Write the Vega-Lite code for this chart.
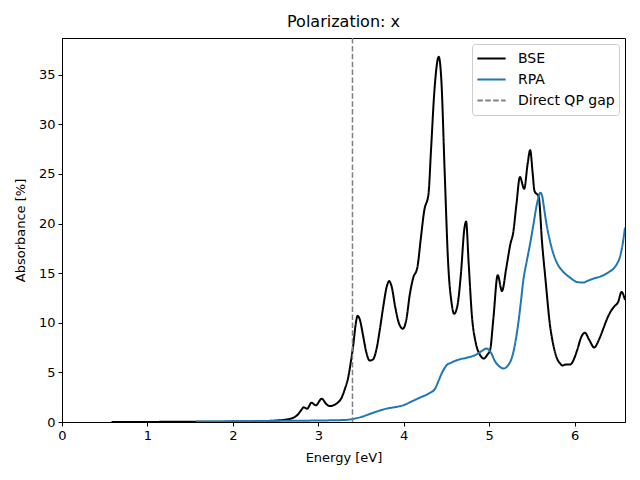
{
  "$schema": "https://vega.github.io/schema/vega-lite/v6.json",
  "autosize": {"type": "none"},
  "padding": {"left": 62, "top": 38, "right": 15, "bottom": 58},
  "width": 563,
  "height": 384,
  "title": {"text": "Polarization: x", "font": "DejaVu Sans", "fontSize": 16, "fontWeight": "normal", "color": "black", "offset": 7},
  "config": {
    "font": "DejaVu Sans",
    "view": {"stroke": "black", "strokeWidth": 1},
    "axis": {
      "grid": false, "domainColor": "black", "tickColor": "black", "labelColor": "black",
      "titleColor": "black", "labelFont": "DejaVu Sans", "titleFont": "DejaVu Sans",
      "labelFontSize": 13, "titleFontSize": 13, "titleFontWeight": "normal",
      "tickSize": 4, "labelPadding": 3, "labelFlush": false
    },
    "legend": {
      "title": null, "orient": "top-right", "offset": 6, "strokeColor": "#cccccc",
      "cornerRadius": 3, "padding": 4, "fillColor": "white", "symbolType": "stroke",
      "symbolSize": 800, "symbolStrokeWidth": 2, "labelFontSize": 14, "labelOffset": 11,
      "labelFont": "DejaVu Sans", "labelColor": "black", "rowPadding": -5, "symbolLimit": 0,
      "clipHeight": 21
    }
  },
  "datasets": {
    "curves": [
      {"e":0.58,"a":0.0,"s":"BSE"},{"e":1.0,"a":0.01,"s":"BSE"},{"e":1.5,"a":0.02,"s":"BSE"},{"e":2.0,"a":0.04,"s":"BSE"},
      {"e":2.3,"a":0.08,"s":"BSE"},{"e":2.5,"a":0.15,"s":"BSE"},{"e":2.6,"a":0.22,"s":"BSE"},{"e":2.7,"a":0.4,"s":"BSE"},
      {"e":2.76,"a":0.75,"s":"BSE"},{"e":2.8,"a":1.2,"s":"BSE"},{"e":2.83,"a":1.48,"s":"BSE"},{"e":2.87,"a":1.34,"s":"BSE"},
      {"e":2.92,"a":1.94,"s":"BSE"},{"e":2.97,"a":1.68,"s":"BSE"},{"e":3.04,"a":2.35,"s":"BSE"},{"e":3.09,"a":1.85,"s":"BSE"},
      {"e":3.13,"a":1.6,"s":"BSE"},{"e":3.18,"a":1.7,"s":"BSE"},{"e":3.22,"a":1.9,"s":"BSE"},{"e":3.27,"a":2.4,"s":"BSE"},
      {"e":3.31,"a":3.3,"s":"BSE"},{"e":3.35,"a":4.5,"s":"BSE"},{"e":3.38,"a":6.0,"s":"BSE"},{"e":3.41,"a":7.8,"s":"BSE"},
      {"e":3.44,"a":10.0,"s":"BSE"},{"e":3.46,"a":10.7,"s":"BSE"},{"e":3.49,"a":10.2,"s":"BSE"},{"e":3.52,"a":8.9,"s":"BSE"},
      {"e":3.56,"a":7.1,"s":"BSE"},{"e":3.6,"a":6.2,"s":"BSE"},{"e":3.64,"a":6.3,"s":"BSE"},{"e":3.68,"a":7.3,"s":"BSE"},
      {"e":3.72,"a":9.3,"s":"BSE"},{"e":3.76,"a":11.6,"s":"BSE"},{"e":3.8,"a":13.6,"s":"BSE"},{"e":3.83,"a":14.2,"s":"BSE"},
      {"e":3.86,"a":13.6,"s":"BSE"},{"e":3.9,"a":11.6,"s":"BSE"},{"e":3.95,"a":9.8,"s":"BSE"},{"e":3.99,"a":9.4,"s":"BSE"},
      {"e":4.03,"a":10.3,"s":"BSE"},{"e":4.07,"a":12.8,"s":"BSE"},{"e":4.11,"a":14.5,"s":"BSE"},{"e":4.16,"a":15.6,"s":"BSE"},
      {"e":4.2,"a":18.5,"s":"BSE"},{"e":4.24,"a":21.3,"s":"BSE"},{"e":4.29,"a":23.0,"s":"BSE"},{"e":4.32,"a":27.5,"s":"BSE"},
      {"e":4.36,"a":33.5,"s":"BSE"},{"e":4.41,"a":36.8,"s":"BSE"},{"e":4.44,"a":34.5,"s":"BSE"},{"e":4.48,"a":25.0,"s":"BSE"},
      {"e":4.52,"a":16.0,"s":"BSE"},{"e":4.56,"a":12.0,"s":"BSE"},{"e":4.59,"a":10.9,"s":"BSE"},{"e":4.63,"a":11.8,"s":"BSE"},
      {"e":4.67,"a":15.0,"s":"BSE"},{"e":4.71,"a":19.5,"s":"BSE"},{"e":4.73,"a":20.2,"s":"BSE"},{"e":4.76,"a":16.0,"s":"BSE"},
      {"e":4.8,"a":10.5,"s":"BSE"},{"e":4.84,"a":8.1,"s":"BSE"},{"e":4.89,"a":6.8,"s":"BSE"},{"e":4.94,"a":6.4,"s":"BSE"},
      {"e":4.98,"a":6.8,"s":"BSE"},{"e":5.01,"a":7.2,"s":"BSE"},{"e":5.05,"a":10.5,"s":"BSE"},{"e":5.1,"a":14.8,"s":"BSE"},
      {"e":5.15,"a":13.2,"s":"BSE"},{"e":5.2,"a":15.5,"s":"BSE"},{"e":5.25,"a":18.0,"s":"BSE"},{"e":5.28,"a":19.0,"s":"BSE"},
      {"e":5.32,"a":22.0,"s":"BSE"},{"e":5.36,"a":24.7,"s":"BSE"},{"e":5.41,"a":23.5,"s":"BSE"},{"e":5.45,"a":26.0,"s":"BSE"},
      {"e":5.48,"a":27.4,"s":"BSE"},{"e":5.51,"a":25.0,"s":"BSE"},{"e":5.53,"a":23.3,"s":"BSE"},{"e":5.58,"a":22.7,"s":"BSE"},
      {"e":5.62,"a":18.0,"s":"BSE"},{"e":5.66,"a":14.3,"s":"BSE"},{"e":5.71,"a":9.9,"s":"BSE"},{"e":5.75,"a":7.8,"s":"BSE"},
      {"e":5.79,"a":6.5,"s":"BSE"},{"e":5.83,"a":5.9,"s":"BSE"},{"e":5.86,"a":5.7,"s":"BSE"},{"e":5.9,"a":5.8,"s":"BSE"},
      {"e":5.95,"a":5.8,"s":"BSE"},{"e":6.0,"a":6.5,"s":"BSE"},{"e":6.03,"a":7.24,"s":"BSE"},{"e":6.08,"a":8.6,"s":"BSE"},
      {"e":6.12,"a":9.0,"s":"BSE"},{"e":6.17,"a":8.3,"s":"BSE"},{"e":6.23,"a":7.5,"s":"BSE"},{"e":6.27,"a":8.0,"s":"BSE"},
      {"e":6.3,"a":8.6,"s":"BSE"},{"e":6.34,"a":9.5,"s":"BSE"},{"e":6.38,"a":10.4,"s":"BSE"},{"e":6.42,"a":11.1,"s":"BSE"},
      {"e":6.46,"a":11.6,"s":"BSE"},{"e":6.51,"a":12.1,"s":"BSE"},{"e":6.55,"a":13.1,"s":"BSE"},{"e":6.59,"a":12.3,"s":"BSE"},
      {"e":1.57,"a":0.04,"s":"RPA"},{"e":2.0,"a":0.07,"s":"RPA"},
      {"e":2.5,"a":0.11,"s":"RPA"},{"e":3.0,"a":0.15,"s":"RPA"},{"e":3.3,"a":0.2,"s":"RPA"},{"e":3.4,"a":0.3,"s":"RPA"},
      {"e":3.5,"a":0.5,"s":"RPA"},{"e":3.6,"a":0.8,"s":"RPA"},{"e":3.7,"a":1.1,"s":"RPA"},{"e":3.8,"a":1.35,"s":"RPA"},
      {"e":3.9,"a":1.5,"s":"RPA"},{"e":4.0,"a":1.7,"s":"RPA"},{"e":4.1,"a":2.1,"s":"RPA"},{"e":4.2,"a":2.5,"s":"RPA"},
      {"e":4.3,"a":2.9,"s":"RPA"},{"e":4.37,"a":3.4,"s":"RPA"},{"e":4.41,"a":4.2,"s":"RPA"},{"e":4.45,"a":5.0,"s":"RPA"},
      {"e":4.5,"a":5.7,"s":"RPA"},{"e":4.56,"a":6.0,"s":"RPA"},{"e":4.65,"a":6.3,"s":"RPA"},{"e":4.75,"a":6.5,"s":"RPA"},
      {"e":4.85,"a":6.8,"s":"RPA"},{"e":4.92,"a":7.2,"s":"RPA"},{"e":4.97,"a":7.4,"s":"RPA"},{"e":5.02,"a":7.0,"s":"RPA"},
      {"e":5.07,"a":6.1,"s":"RPA"},{"e":5.12,"a":5.6,"s":"RPA"},{"e":5.17,"a":5.4,"s":"RPA"},{"e":5.22,"a":5.7,"s":"RPA"},
      {"e":5.27,"a":6.6,"s":"RPA"},{"e":5.31,"a":8.2,"s":"RPA"},{"e":5.34,"a":9.9,"s":"RPA"},{"e":5.37,"a":12.0,"s":"RPA"},
      {"e":5.4,"a":14.3,"s":"RPA"},{"e":5.44,"a":16.2,"s":"RPA"},{"e":5.48,"a":18.0,"s":"RPA"},{"e":5.52,"a":20.0,"s":"RPA"},
      {"e":5.56,"a":22.0,"s":"RPA"},{"e":5.6,"a":23.1,"s":"RPA"},{"e":5.62,"a":22.8,"s":"RPA"},{"e":5.64,"a":21.7,"s":"RPA"},
      {"e":5.67,"a":20.0,"s":"RPA"},{"e":5.71,"a":18.3,"s":"RPA"},{"e":5.75,"a":17.0,"s":"RPA"},{"e":5.79,"a":16.1,"s":"RPA"},
      {"e":5.85,"a":15.3,"s":"RPA"},{"e":5.91,"a":14.8,"s":"RPA"},{"e":5.97,"a":14.4,"s":"RPA"},{"e":6.03,"a":14.1,"s":"RPA"},
      {"e":6.1,"a":14.05,"s":"RPA"},{"e":6.16,"a":14.25,"s":"RPA"},{"e":6.22,"a":14.45,"s":"RPA"},{"e":6.28,"a":14.6,"s":"RPA"},
      {"e":6.34,"a":14.8,"s":"RPA"},{"e":6.4,"a":15.1,"s":"RPA"},{"e":6.46,"a":15.5,"s":"RPA"},{"e":6.5,"a":16.0,"s":"RPA"},
      {"e":6.53,"a":16.6,"s":"RPA"},{"e":6.56,"a":17.8,"s":"RPA"},{"e":6.59,"a":19.6,"s":"RPA"}
    ],
    "gap": [{"e": 3.4, "s": "Direct QP gap"}]
  },
  "layer": [
    {
      "data": {"name": "curves"},
      "mark": {"type": "line", "strokeWidth": 2, "interpolate": "monotone", "clip": true},
      "encoding": {
        "x": {"field": "e", "type": "quantitative", "title": "Energy [eV]",
              "scale": {"domain": [0, 6.59], "nice": false, "zero": false},
              "axis": {"values": [0,1,2,3,4,5,6], "format": "d", "titlePadding": 9}},
        "y": {"field": "a", "type": "quantitative", "title": "Absorbance [%]",
              "scale": {"domain": [0, 38.7], "nice": false},
              "axis": {"values": [0,5,10,15,20,25,30,35], "format": "d", "titlePadding": 11}},
        "color": {"field": "s", "type": "nominal",
                  "scale": {"domain": ["BSE","RPA","Direct QP gap"], "range": ["black","#1f77b4","#808080"]}},
        "strokeDash": {"field": "s", "type": "nominal",
                  "scale": {"domain": ["BSE","RPA","Direct QP gap"], "range": [[1,0],[1,0],[5.5,2.4]]}}
      }
    },
    {
      "data": {"name": "gap"},
      "mark": {"type": "rule", "strokeWidth": 1.5},
      "encoding": {
        "x": {"field": "e", "type": "quantitative"},
        "color": {"field": "s", "type": "nominal"},
        "strokeDash": {"field": "s", "type": "nominal"}
      }
    }
  ]
}
